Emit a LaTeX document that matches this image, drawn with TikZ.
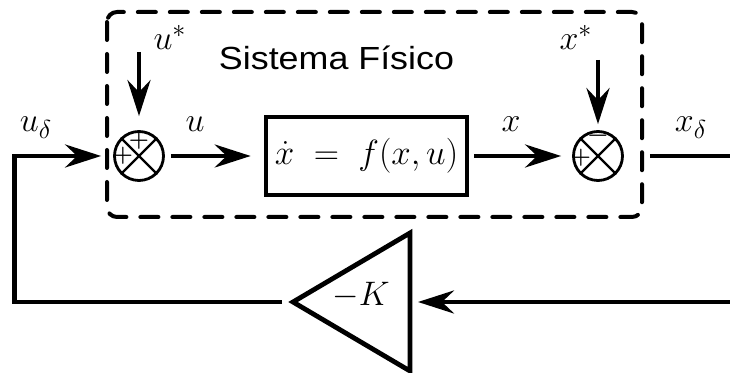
\RequirePackage{fix-cm}
\documentclass[tikz,border=0pt]{standalone}
\usepackage{fontspec}
\newfontfamily\labfont{Liberation Sans}
\DeclareMathSizes{17}{17}{13}{10}
\DeclareMathSizes{17.5}{17.5}{13}{10}
\usetikzlibrary{arrows.meta}
\begin{document}
\begin{tikzpicture}[x=0.5pt,y=-0.5pt,
  wire/.style={line width=2.2pt},
  arr/.style={wire,-{Stealth[length=18pt,width=11.5pt,inset=6pt]}},
  sumj/.style={circle,draw,line width=1.4pt,minimum size=24.5pt,inner sep=0pt},
  xline/.style={line width=1.2pt},
  sgn/.style={inner sep=0pt,font=\fontsize{11.5}{13}\selectfont\bfseries},
  lbl/.style={inner sep=0pt,font=\fontsize{17}{20}\selectfont},
  plantbox/.style={draw,line width=2.3pt,minimum width=100.5pt,minimum height=39pt,inner sep=0pt,font=\fontsize{17.5}{20}\selectfont},
  frame/.style={line width=2pt,dash pattern=on 9pt off 7pt,line cap=round,rounded corners=5pt},
  tri/.style={line width=2.4pt,line join=miter}]
\useasboundingbox (0,0) rectangle (730,373);
\clip (0,0) rectangle (730,373);

% dashed frame
\draw[frame] (107,12) rectangle (642,217);
\node[lbl,font=\labfont\fontsize{16}{19}\selectfont,anchor=base] (title) at (336.5,70) {\scalebox{1.12}[1]{Sistema Físico}};

% blocks
\node[sumj] (j1) at (139,156) {};
\draw[xline] (j1.north east) -- (j1.south west) (j1.north west) -- (j1.south east);
\node[sgn] (j1a) at ([yshift=7.5pt]j1.center) {+};
\node[sgn] (j1b) at ([xshift=-8pt]j1.center) {+};

\node[plantbox] (plant) at (366.5,156) {$\dot x\;=\;f(x,u)$};

\node[sgn] (j2a) at ([yshift=9pt]598,156) {−};
\node[sumj] (j2) at (598,156) {};
\draw[xline] (j2.north east) -- (j2.south west) (j2.north west) -- (j2.south east);
\node[sgn] (j2b) at ([xshift=-8.5pt,yshift=-1pt]j2.center) {+};

% gain triangle
\coordinate (ktip) at (293,302);
\coordinate (ktop) at (410,233);
\coordinate (kbot) at (410,371);
\coordinate (kin) at (410,302);
\draw[tri] (ktip) -- (ktop) -- (kbot) -- cycle;
\node[lbl,anchor=base] (gain) at (361,306) {$-K$};

% free ends
\coordinate (us) at (139,52);
\coordinate (xs) at (598,60);
\coordinate (lb) at (14.5,302);
\coordinate (rt) at (745,156);
\coordinate (rb) at (745,302);

% connectors
\draw[arr,shorten <=5.5pt,shorten >=6pt] (ktip) -- (lb) |- (j1.west);
\draw[arr,shorten >=7pt] (us) -- (j1.north);
\draw[arr,shorten <=3pt,shorten >=6.5pt] (j1.east) -- (plant.west);
\draw[arr,shorten <=2.5pt,shorten >=5.5pt] (plant.east) -- (j2.west);
\draw[arr,shorten >=3pt] (xs) -- (j2.north);
\draw[arr,shorten <=13pt,shorten >=4pt] (j2.east) -- (rt) -- (rb) -- (kin);

% labels
\node[lbl,anchor=base] (lus) at (170,50) {$u^*$};
\node[lbl,anchor=base] (lxs) at (576,50) {$x^*$};
\node[lbl,anchor=base] (lud) at (36,132) {$u_\delta$};
\node[lbl,anchor=base] (lu) at (195,132) {$u$};
\node[lbl,anchor=base] (lx) at (511,132) {$x$};
\node[lbl,anchor=base] (lxd) at (691,132) {$x_\delta$};
\end{tikzpicture}
\end{document}
